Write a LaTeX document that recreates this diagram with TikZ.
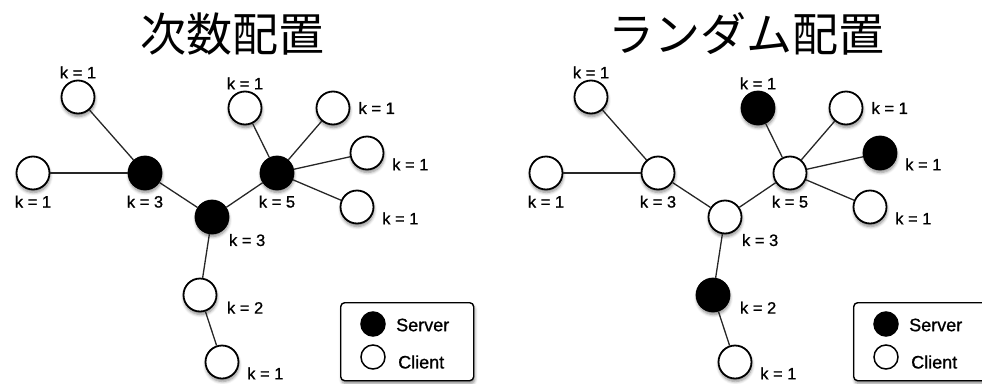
\documentclass[tikz,border=0pt]{standalone}
\usepackage{fontspec}
\setmainfont{Liberation Sans}
\newfontfamily\jpfont{Noto Sans CJK JP}
\newfontfamily\degfont[FakeBold=0.9]{Liberation Sans}
\usetikzlibrary{shadows.blur}

\begin{document}
\begin{tikzpicture}[x=1pt,y=-1pt,
  client/.style={circle,draw,line width=1.8pt,fill=white,minimum size=33pt,inner sep=0pt,
                 blur shadow={shadow xshift=0.5pt,shadow yshift=-3pt,shadow blur steps=6,
                              shadow blur radius=3pt,shadow opacity=45}},
  server/.style={client,fill=black},
  deg/.style={font=\degfont\fontsize{16.5}{16.5}\selectfont,inner sep=1pt},
  link/.style={line width=1.3pt,draw=black!85},
  title/.style={font=\jpfont\fontsize{46}{46}\selectfont},
  legendbox/.style={draw,rounded corners=4pt,line width=1.4pt,fill=white,
                    blur shadow={shadow xshift=1pt,shadow yshift=-3pt,shadow blur steps=6,
                                 shadow blur radius=3pt,shadow opacity=45}},
  keydot/.style={circle,draw,line width=1.5pt,minimum size=24pt,inner sep=0pt},
  keytext/.style={font=\degfont\fontsize{18}{18}\selectfont,anchor=west,inner sep=0pt}
]
\useasboundingbox (0,0) rectangle (982,383);
\clip (0,0) rectangle (982,383);

% servers placed on the high-degree nodes
\begin{scope}[name prefix=deg-]
\node[title] (title) at (232,34) {次数配置};
\node[client,label={[deg]above:k = 1}] (top) at (78,97) {};
\node[client,label={[deg,label distance=4pt]below:k = 1}] (left) at (33,173) {};
\node[server,label={[deg,label distance=4pt]below:k = 3}] (hubA) at (145,173) {};
\node[server,label={[deg,label distance=5pt]below right:k = 3}] (core) at (212,217) {};
\node[server,label={[deg,label distance=4pt]below:k = 5}] (hubB) at (277,173) {};
\node[client,label={[deg]above:k = 1}] (up) at (245,108) {};
\node[client,label={[deg,label distance=7pt]right:k = 1}] (ne) at (333,108) {};
\node[client,label={[deg,label distance=7pt]-10:k = 1}] (east) at (367,153) {};
\node[client,label={[deg,label distance=7pt]-10:k = 1}] (se) at (357,207) {};
\node[client,label={[deg,label distance=9pt]-12:k = 2}] (mid) at (200,295) {};
\node[client,label={[deg,label distance=7pt]-10:k = 1}] (bottom) at (222,362) {};
\draw[link] (top) -- (hubA);
\draw[link] (left) -- (hubA);
\draw[link] (hubA) -- (core);
\draw[link] (core) -- (hubB);
\draw[link] (hubB) -- (up);
\draw[link] (hubB) -- (ne);
\draw[link] (hubB) -- (east);
\draw[link] (hubB) -- (se);
\draw[link] (core) -- (mid);
\draw[link] (mid) -- (bottom);
% legend
\node[legendbox,minimum width=133pt,minimum height=78pt,anchor=north west] (key) at (340,302) {};
\node[keydot,fill=black] (srv) at (373,324) {};
\node[keytext] (srvtext) at (396,325) {Server};
\node[keydot,fill=white] (cli) at (373,357) {};
\node[keytext] (clitext) at (398,362) {Client};
\end{scope}

% servers placed at random
\begin{scope}[name prefix=rnd-,xshift=513pt]
\node[title] (title) at (233,34) {ランダム配置};
\node[client,label={[deg]above:k = 1}] (top) at (78,97) {};
\node[client,label={[deg,label distance=4pt]below:k = 1}] (left) at (33,173) {};
\node[client,label={[deg,label distance=4pt]below:k = 3}] (hubA) at (145,173) {};
\node[client,label={[deg,label distance=5pt]below right:k = 3}] (core) at (212,217) {};
\node[client,label={[deg,label distance=4pt]below:k = 5}] (hubB) at (277,173) {};
\node[server,label={[deg]above:k = 1}] (up) at (245,108) {};
\node[client,label={[deg,label distance=7pt]right:k = 1}] (ne) at (333,108) {};
\node[server,label={[deg,label distance=7pt]-10:k = 1}] (east) at (367,153) {};
\node[client,label={[deg,label distance=7pt]-10:k = 1}] (se) at (357,207) {};
\node[server,label={[deg,label distance=9pt]-12:k = 2}] (mid) at (200,295) {};
\node[client,label={[deg,label distance=7pt]-10:k = 1}] (bottom) at (222,362) {};
\draw[link] (top) -- (hubA);
\draw[link] (left) -- (hubA);
\draw[link] (hubA) -- (core);
\draw[link] (core) -- (hubB);
\draw[link] (hubB) -- (up);
\draw[link] (hubB) -- (ne);
\draw[link] (hubB) -- (east);
\draw[link] (hubB) -- (se);
\draw[link] (core) -- (mid);
\draw[link] (mid) -- (bottom);
% legend
\node[legendbox,minimum width=133pt,minimum height=78pt,anchor=north west] (key) at (340,302) {};
\node[keydot,fill=black] (srv) at (373,324) {};
\node[keytext] (srvtext) at (396,325) {Server};
\node[keydot,fill=white] (cli) at (373,357) {};
\node[keytext] (clitext) at (398,362) {Client};
\end{scope}
\end{tikzpicture}
\end{document}
